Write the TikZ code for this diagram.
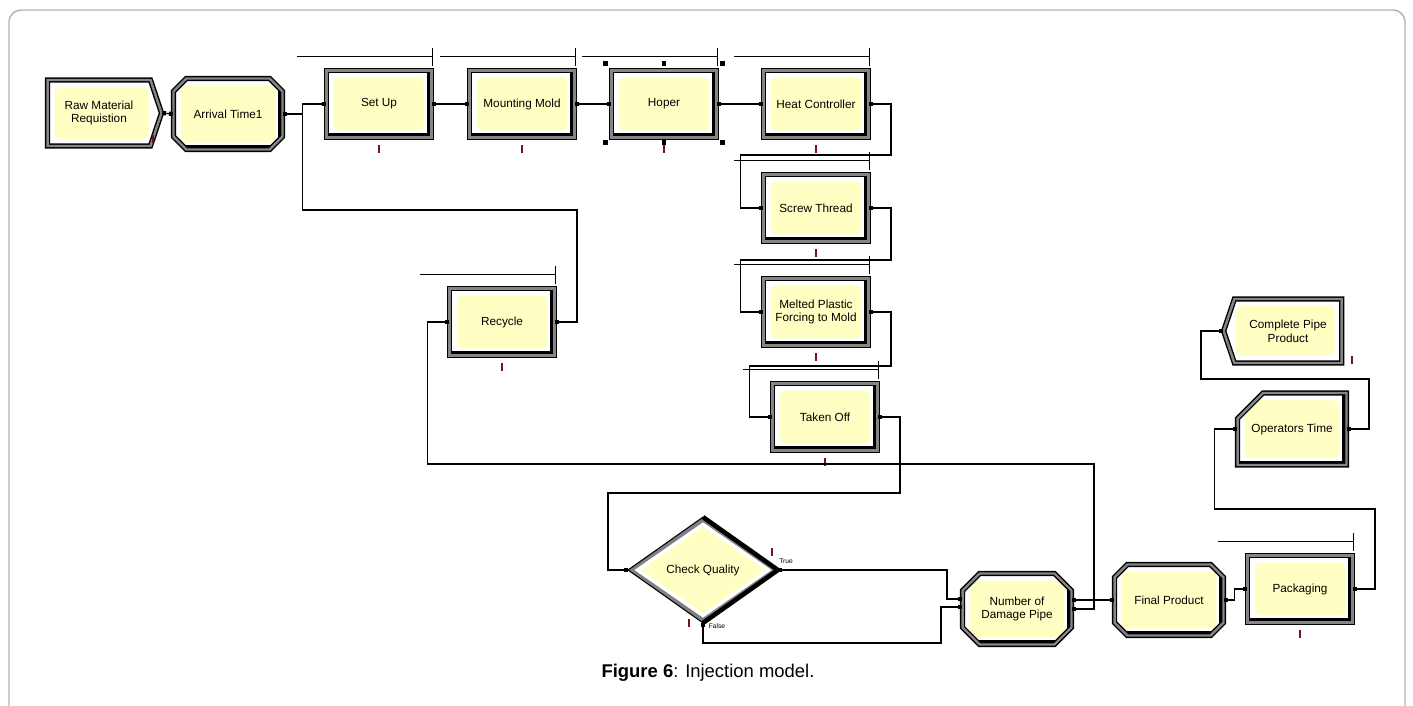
\documentclass[tikz,border=0pt]{standalone}
\usepackage{fontspec}
\setmainfont{Liberation Sans}
\usetikzlibrary{positioning}
\usetikzlibrary{calc}
\usetikzlibrary{arrows.meta}
\usetikzlibrary{shapes.geometric}
\usetikzlibrary{shapes.misc}
\usetikzlibrary{shapes.symbols}
\definecolor{modyellow}{RGB}{255,255,196}
\definecolor{imarkred}{RGB}{110,20,35}
\tikzset{
  modcore/.style = {draw = black, line width = 0.8pt, double = black!48, double distance = 1.4pt,
    fill = white, inner sep = 0, align = center, font = \fontsize{6.7}{7.8}\selectfont},
  yellowin/.style = {path picture = {
      \fill[modyellow, rounded corners = 3pt] ([shift = {(4pt,4pt)}]path picture bounding box.south west)
        rectangle ([shift = {(-4pt,-4pt)}]path picture bounding box.north east);
      \fill[black] (path picture bounding box.south west) rectangle ([yshift = 2.4pt]path picture bounding box.south east);
      \fill[black] (path picture bounding box.south east) rectangle ([xshift = -2.4pt]path picture bounding box.north east);
    }},
  procbox/.style = {modcore, yellowin, rectangle, minimum width = 2.1cm, minimum height = 1.34cm},
  assignbox/.style = {modcore, yellowin, chamfered rectangle, chamfered rectangle xsep = 0.17cm,
    chamfered rectangle ysep = 0.17cm, minimum width = 2.18cm, minimum height = 1.42cm},
  opsbox/.style = {modcore, yellowin, chamfered rectangle, chamfered rectangle corners = north west,
    chamfered rectangle xsep = 0.44cm, chamfered rectangle ysep = 0.4cm, minimum width = 2.18cm, minimum height = 1.44cm},
  createbox/.style = {modcore, signal, signal to = east, signal from = nowhere, signal pointer angle = 143,
    minimum width = 2.28cm, minimum height = 1.32cm,
    path picture = {\fill[modyellow, rounded corners = 3pt] ([shift = {(4pt,4pt)}]path picture bounding box.south west)
        rectangle ([shift = {(-7pt,-4pt)}]path picture bounding box.north east);}},
  disposebox/.style = {modcore, signal, signal to = west, signal from = nowhere, signal pointer angle = 143,
    minimum width = 2.36cm, minimum height = 1.28cm,
    path picture = {\fill[modyellow, rounded corners = 3pt] ([shift = {(7pt,4pt)}]path picture bounding box.south west)
        rectangle ([shift = {(-4pt,-4pt)}]path picture bounding box.north east);}},
  decidebox/.style = {diamond, draw = black!50, line width = 2.2pt, fill = white, inner sep = 0,
    minimum width = 2.92cm, minimum height = 2.04cm, font = \fontsize{6.7}{7.8}\selectfont,
    path picture = {
      \coordinate (c) at (path picture bounding box.center);
      \fill[modyellow] ($(c)!0.86!(path picture bounding box.north)$) -- ($(c)!0.86!(path picture bounding box.east)$)
        -- ($(c)!0.86!(path picture bounding box.south)$) -- ($(c)!0.86!(path picture bounding box.west)$) -- cycle;
    }},
  conn/.style = {line width = 0.7pt, {Square[length = 2.2pt, width = 2.4pt]}-{Square[length = 2.2pt, width = 2.4pt]}},
  queue/.style = {line width = 0.6pt},
  imark/.style = {fill = imarkred, inner sep = 0, minimum width = 1.2pt, minimum height = 4.4pt},
  handle/.style = {fill = black, inner sep = 0, minimum size = 2.7pt},
  tiny/.style = {inner sep = 0, font = \fontsize{3.8}{4}\selectfont}
}

\begin{document}
\begin{tikzpicture}[x = 0.02cm, y = -0.02cm]
    \useasboundingbox (0, 0) rectangle (1413, 706);
    \draw[gray!60, line width = 0.8pt, rounded corners = 0.24cm] (9, 730) -- (9, 10) -- (1405, 10) -- (1405, 730);

    % first row
    \node [createbox] (raw) at (99, 113) {Raw Material\\Requistion};
    \node [assignbox] (arrival) at (228, 114) {Arrival Time1};
    \node [procbox] (setup) at (379, 104) {Set Up};
    \node [procbox] (mounting) at (522, 104) {Mounting Mold};
    \node [procbox] (hoper) at (664, 104) {Hoper};
    \node [procbox] (heat) at (816, 104) {Heat Controller};

    % column under the heat controller
    \node [procbox] (screw) at (816, 208) {Screw Thread};
    \node [procbox] (melted) at (816, 312) {Melted Plastic\\Forcing to Mold};
    \node [procbox] (taken) at (825, 417) {Taken Off};
    \node [procbox] (recycle) at (502, 322) {Recycle};

    % bottom row
    \node [decidebox] (check) at (703, 570) {Check Quality};
    \node [assignbox] (damage) at (1017, 609) {Number of\\Damage Pipe};
    \node [assignbox] (final) at (1169, 600) {Final Product};
    \node [procbox] (packaging) at (1300, 589) {Packaging};
    \node [opsbox] (ops) at (1292, 429) {Operators Time};
    \node [disposebox] (done) at (1288, 331) {Complete Pipe\\Product};

    % diamond edges
    \draw[line width = 2.6pt, line join = miter] (check.north) -- (check.east) -- (check.south);
    \draw[line width = 0.6pt] (check.north) -- (check.west) -- (check.south);

    % queues and counters
    \foreach \n in {setup, mounting, hoper, heat, screw, melted, taken, recycle, packaging} {
      \draw[queue] ($(\n.north east) + (-135, -13)$) -- ++(135, 0) ++(0, -9) -- ++(0, 18);
      \node [imark] (\n-i) at ($(\n.south) + (0, 11)$) {};
    }
    \node [imark] (raw-i) at (153, 139) {};
    \node [imark] (done-i) at (1352, 360) {};
    \node [imark] (true-i) at (772, 552) {};
    \node [imark] (false-i) at (689, 623) {};
    \node [tiny] (truelbl) at (786, 561) {True};
    \node [tiny] (falselbl) at (717, 626) {False};

    % selection handles
    \node [handle] (h1) at ($(hoper.north west) + (-5, -6)$) {};
    \node [handle] (h2) at ($(hoper.north) + (0, -6)$) {};
    \node [handle] (h3) at ($(hoper.north east) + (5, -6)$) {};
    \node [handle] (h4) at ($(hoper.south west) + (-5, 4)$) {};
    \node [handle] (h5) at ($(hoper.south) + (0, 4)$) {};
    \node [handle] (h6) at ($(hoper.south east) + (5, 4)$) {};

    % connectors
    \coordinate (j1) at ($(setup.west) + (-23, 0)$);
    \coordinate (rc) at (577, 210);
    \coordinate (ctrue) at (947, 599);
    \coordinate (cfalse) at (941, 643);
    \draw[conn] (raw.east) -- (arrival.west);
    \draw[conn] (arrival.east) -| (j1) -- (setup.west);
    \draw[conn] (recycle.east) -| (rc) -| (j1) -- (setup.west);
    \draw[conn] (setup.east) -- (mounting.west);
    \draw[conn] (mounting.east) -- (hoper.west);
    \draw[conn] (hoper.east) -- (heat.west);
    \draw[conn] (heat.east) -| (891, 155) -| ($(screw.west) + (-22, 0)$) -- (screw.west);
    \draw[conn] (screw.east) -| (891, 260) -| ($(melted.west) + (-22, 0)$) -- (melted.west);
    \draw[conn] (melted.east) -| (891, 366) -| ($(taken.west) + (-22, 0)$) -- (taken.west);
    \draw[conn] (taken.east) -| (900, 493) -| ($(check.west) + (-20, 0)$) -- (check.west);
    \draw[conn] (check.east) -| (ctrue) -- (ctrue -| damage.west);
    \draw[conn] (check.south) |- (cfalse) |- ($(damage.west) + (0, -2)$);
    \draw[conn] (final.west -| damage.east) -- (final.west);
    \draw[conn] (damage.east) -| (1094, 464) -| ($(recycle.west) + (-21, 0)$) -- (recycle.west);
    \draw[conn] (final.east) -| ($(packaging.west) + (-12, 0)$) -- (packaging.west);
    \draw[conn] (packaging.east) -| (1375, 509) -| ($(ops.west) + (-22, 0)$) -- (ops.west);
    \draw[conn] (ops.east) -| (1369, 379) -| ($(done.west) + (-22, 0)$) -- (done.west);

    \node [font = \fontsize{10.5}{12}\selectfont] (caption) at (708, 673) {\textbf{Figure 6}: Injection model.};
  \end{tikzpicture}
\end{document}
